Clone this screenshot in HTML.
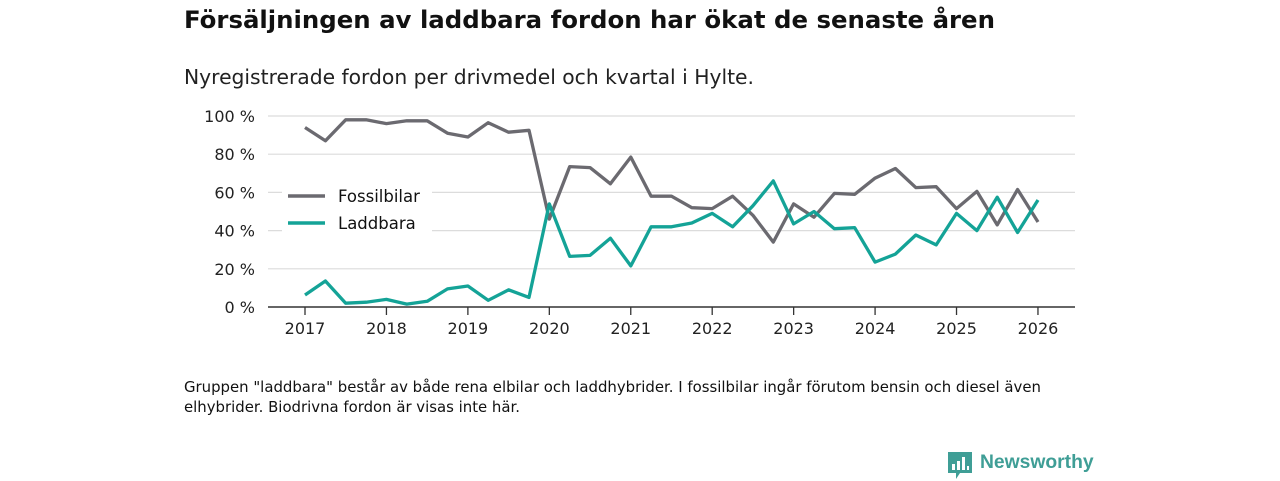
<!DOCTYPE html>
<html><head><meta charset="utf-8"><style>
body{margin:0;width:1280px;height:480px;background:#fff;font-family:"DejaVu Sans","Liberation Sans",sans-serif;overflow:hidden;position:relative;color:#111}
.t{position:absolute;white-space:nowrap}
</style></head><body>
<div class="t" style="left:184px;top:5px;font-size:24.4px;font-weight:bold">Försäljningen av laddbara fordon har ökat de senaste åren</div>
<div class="t" style="left:184px;top:65px;font-size:20.3px;color:#222">Nyregistrerade fordon per drivmedel och kvartal i Hylte.</div>
<svg id="c" width="1280" height="360" style="position:absolute;left:0;top:0"></svg>
<div class="t" style="left:184px;top:377px;font-size:14.9px;line-height:20px;color:#111">Gruppen "laddbara" består av både rena elbilar och laddhybrider. I fossilbilar ingår förutom bensin och diesel även<br>elhybrider. Biodrivna fordon är visas inte här.</div>
<div style="position:absolute;left:948px;top:451px;width:150px;height:30px">
<svg width="24" height="28" style="position:absolute;left:0;top:1px"><path d="M0 0H24V21H12L8 27V21H0Z" fill="#3f9e96"/><rect x="4" y="12" width="3" height="6" fill="#fff"/><rect x="9" y="9" width="3" height="9" fill="#fff"/><rect x="14" y="5" width="3" height="13" fill="#fff"/><rect x="19" y="14" width="2" height="4" fill="#fff"/></svg>
<div class="t" style="left:32px;top:1px;font-size:19.3px;color:#3f9e96;font-family:'Liberation Sans',sans-serif;font-weight:bold">Newsworthy</div></div>
<script>
const years=[2017,2018,2019,2020,2021,2022,2023,2024,2025,2026];
const yTicks=[0,20,40,60,80,100];
const fossil=[94,87,98,98,96,97.5,97.5,91,89,96.5,91.5,92.5,46,73.5,73,64.5,78.5,58,58,52,51.5,58,48,34,54,47,59.5,59,67.5,72.5,62.5,63,51.5,60.5,43,61.5,44.5];
const laddbara=[6.3,13.6,2,2.5,4,1.5,3,9.5,11,3.5,9,5,54,26.5,27,36,21.5,42,42,44,49,42,53,66,43.5,50,41,41.5,23.5,27.7,37.7,32.5,49,40,57.5,39,56];
const seriesNames=["Fossilbilar","Laddbara"];
const colors=["#6b6a70","#14a397"];
const svg=document.getElementById('c');const NS="http://www.w3.org/2000/svg";
const x=t=>305+(t-2017)*81.44;const y=v=>307-v*1.91;
function mk(tag,at,p){const e=document.createElementNS(NS,tag);for(const k in at)e.setAttribute(k,at[k]);(p||svg).appendChild(e);return e;}
yTicks.forEach(v=>{if(v>0){const g=mk('line',{x1:268,x2:1075,y1:y(v),y2:y(v),stroke:'#dcdcdc','stroke-width':1.2});}
const t=mk('text',{x:255,y:y(v)+6,'text-anchor':'end','font-size':16,fill:'#222'});t.textContent=v+' %';});
const ax=mk('line',{x1:268,x2:1075,y1:307,y2:307,stroke:'#333','stroke-width':1.5});
years.forEach(yr=>{const tk=mk('line',{x1:x(yr),x2:x(yr),y1:307,y2:315,stroke:'#333','stroke-width':1.3});
const t=mk('text',{x:x(yr),y:334,'text-anchor':'middle','font-size':16,fill:'#222'});t.textContent=yr;});
[fossil,laddbara].forEach((s,i)=>{const d=s.map((v,j)=>(j?'L':'M')+x(2017+j/4).toFixed(1)+' '+y(v).toFixed(1)).join('');
const p=mk('path',{d:d,fill:'none',stroke:colors[i],'stroke-width':3.3,'stroke-linejoin':'round'});});
const lb=mk('rect',{x:282,y:182,width:150,height:54,fill:'#fff'});
seriesNames.forEach((n,i)=>{const yy=196+i*27;const l=mk('line',{x1:288,x2:325,y1:yy,y2:yy,stroke:colors[i],'stroke-width':3.5});
const t=mk('text',{x:338,y:yy+6,'font-size':16.5,fill:'#111'});t.textContent=n;});
</script>
</body></html>
